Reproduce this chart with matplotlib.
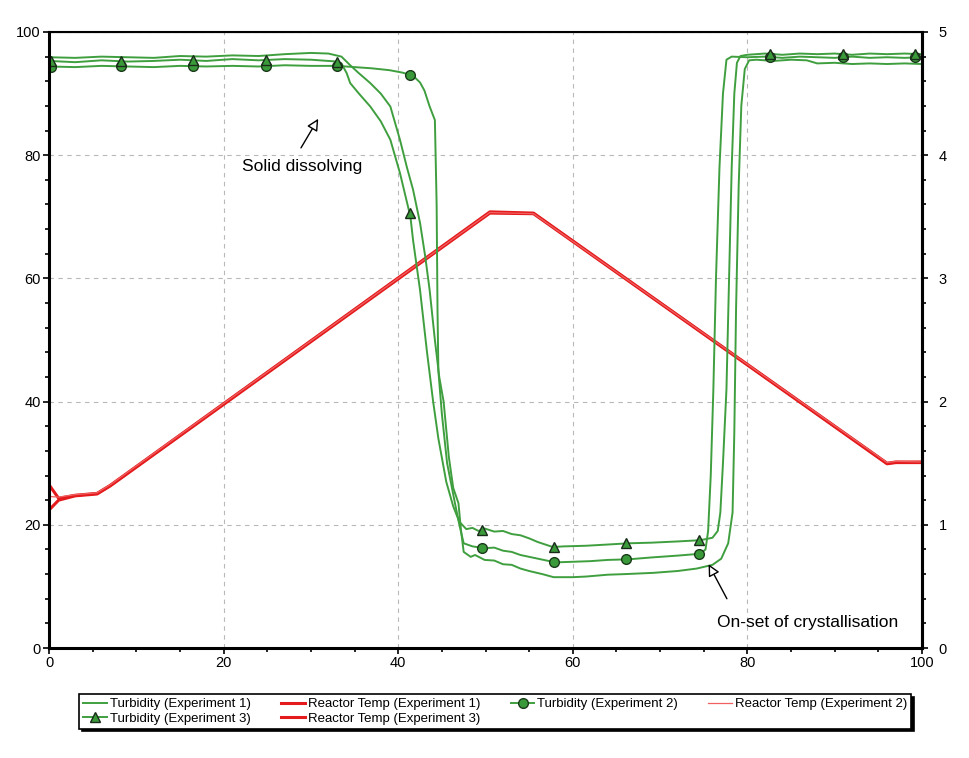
import numpy as np
import matplotlib
matplotlib.use('Agg')
import matplotlib.pyplot as plt
from matplotlib.ticker import MultipleLocator

plt.rcParams['font.family'] = ['Liberation Sans', 'DejaVu Sans']

# turbidity, experiment 1 (no marker)
x_t1 = [0, 3, 6, 9, 12, 15, 18, 21, 24, 27, 30, 32, 33.5, 34.5, 35.5, 36.8, 38, 39.1, 40.2,
        41.0, 41.7, 42.5, 43.1, 43.6, 44.2, 44.7, 45.2, 45.8, 46.3, 46.9, 47.2, 47.5, 48.3,
        48.8, 49.9, 51, 52, 53, 54, 55, 56.5, 57.8, 60, 61.5, 64, 66, 69.2, 72, 74.2, 76, 77,
        77.8, 78.3, 78.5, 78.7, 79.0, 79.3, 79.7, 80.2, 81, 83, 85, 86.8, 88, 90, 92, 94, 96,
        98, 100]
y_t1 = [95.9, 95.8, 96.0, 95.9, 95.8, 96.1, 96.0, 96.2, 96.1, 96.4, 96.6, 96.5, 96.0, 94.6,
        93.3, 91.7, 90.0, 87.9, 82.5, 78.0, 74.4, 69.0, 63.5, 58.1, 50.0, 44.0, 40.0, 31.0,
        26.0, 23.5, 19.0, 15.6, 14.8, 15.1, 14.3, 14.2, 13.6, 13.5, 12.9, 12.5, 12.0, 11.5,
        11.5, 11.6, 11.9, 12.0, 12.2, 12.5, 12.9, 13.5, 14.5, 17.0, 22.0, 35.0, 55.0, 75.0,
        88.0, 94.0, 95.4, 95.5, 95.3, 95.5, 95.4, 94.9, 95.0, 94.8, 94.9, 94.8, 94.9, 94.8]

# turbidity, experiment 2 (circles)
x_t2 = [0, 3, 6, 9, 12, 15, 18, 21, 24, 27, 30, 33, 35, 37, 39, 40.5, 41.7, 42.5, 43.0, 43.6,
        44.2, 44.4, 44.5, 44.6, 45.0, 45.6, 46.5, 47.0, 47.5, 48.5, 49.9, 51, 52, 53, 54, 55,
        56, 58, 60, 62, 64, 66.4, 69, 72, 74.6, 75.2, 75.5, 75.8, 76.1, 76.4, 76.8, 77.2,
        77.6, 78.2, 80, 82, 84, 86, 88, 90, 92, 94, 96, 98, 100]
y_t2 = [94.4, 94.3, 94.5, 94.4, 94.3, 94.5, 94.4, 94.5, 94.4, 94.6, 94.5, 94.5, 94.3, 94.1,
        93.8, 93.4, 92.9, 91.8, 90.5, 87.9, 85.7, 72.0, 55.0, 45.0, 38.0, 30.0, 23.5, 20.0,
        17.0, 16.5, 16.2, 16.3, 15.8, 15.6, 15.1, 14.8, 14.5, 13.9, 14.0, 14.1, 14.3, 14.4,
        14.7, 15.0, 15.3, 16.0, 19.0, 28.0, 42.0, 60.0, 78.0, 90.0, 95.5, 96.0, 95.9, 96.0,
        95.8, 96.0, 95.9, 95.8, 96.0, 95.8, 95.9, 95.8, 95.9]

# turbidity, experiment 3 (triangles)
x_t3 = [0, 3, 6, 9, 12, 15, 18, 21, 24, 27, 30, 33, 33.5, 34.1, 34.5, 35.5, 36.8, 38, 39.1,
        40.2, 41.4, 41.7, 42.5, 43.3, 44.0, 44.6, 45.5, 46.3, 47.0, 47.8, 48.5, 49.2, 49.9,
        51, 52, 53, 54, 55, 56, 57.7, 59, 61.5, 64, 66.4, 69, 72, 74.6, 76.0, 76.6, 76.9,
        77.2, 77.6, 77.9, 78.2, 78.5, 78.8, 79.2, 80, 82, 84, 86, 88, 90, 92, 94, 96, 98, 100]
y_t3 = [95.3, 95.1, 95.4, 95.2, 95.3, 95.5, 95.3, 95.6, 95.4, 95.6, 95.5, 95.2, 94.9, 93.3,
        91.7, 90.0, 87.9, 85.5, 82.5, 77.1, 70.0, 66.2, 58.1, 48.0, 40.0, 34.0, 27.0, 23.0,
        20.5, 19.3, 19.5, 19.0, 19.4, 18.9, 19.0, 18.5, 18.3, 17.8, 17.2, 16.4, 16.5, 16.6,
        16.8, 17.0, 17.1, 17.3, 17.5, 17.9, 19.0, 22.0, 30.0, 42.0, 60.0, 78.0, 90.0, 95.0,
        96.1, 96.3, 96.5, 96.3, 96.5, 96.4, 96.5, 96.3, 96.5, 96.4, 96.5, 96.4]

marker_x = [0.2, 8.26, 16.5, 24.8, 33.0, 41.3, 49.6, 57.9, 66.1, 74.4, 82.6, 90.9, 99.2]

# reactor temperatures
x_temp = [0, 1.1, 3, 5.5, 7, 50.5, 55.5, 96.0, 97, 100]
y_temp1 = [26.5, 24.3, 24.8, 25.1, 26.4, 70.8, 70.6, 30.0, 30.2, 30.2]
y_temp2 = [24.6, 24.5, 24.9, 25.2, 26.5, 70.7, 70.5, 30.1, 30.3, 30.2]
y_temp3 = [22.4, 24.0, 24.7, 25.0, 26.3, 70.6, 70.5, 29.9, 30.1, 30.1]

right_ticks = [0, 1, 2, 3, 4, 5]

green = '#3f9f3f'
red = '#e41a1c'

fig = plt.figure(figsize=(9.69, 7.58), dpi=100)
ax = fig.add_axes([0.0506, 0.1451, 0.9009, 0.8127])

ax.xaxis.grid(True, which='major', color='#b8b8b8', linestyle=(0, (4, 4)), lw=0.8)
ax.yaxis.grid(True, which='major', color='#b8b8b8', linestyle=(0, (4, 4)), lw=0.8)
ax.set_axisbelow(True)

rt1, = ax.plot(x_temp, y_temp1, color=red, lw=2.2)
rt3, = ax.plot(x_temp, y_temp3, color=red, lw=2.2)
rt2, = ax.plot(x_temp, y_temp2, color='#f06060', lw=0.9)

t1, = ax.plot(x_t1, y_t1, color=green, lw=1.4)
t2, = ax.plot(x_t2, y_t2, color=green, lw=1.4)
t3, = ax.plot(x_t3, y_t3, color=green, lw=1.4)

m2, = ax.plot(marker_x, np.interp(marker_x, x_t2, y_t2), ls='none', marker='o', ms=7,
              mfc='#3a9a3a', mec='#1a3a1a', mew=1.0)
m3, = ax.plot(marker_x, np.interp(marker_x, x_t3, y_t3), ls='none', marker='^', ms=7,
              mfc='#3a9a3a', mec='#1a2a1a', mew=1.0)

ax.set_xlim(0, 100)
ax.set_ylim(0, 100)
ax.xaxis.set_major_locator(MultipleLocator(20))
ax.xaxis.set_minor_locator(MultipleLocator(5))
ax.yaxis.set_major_locator(MultipleLocator(20))
ax.yaxis.set_minor_locator(MultipleLocator(4))
ax.tick_params(which='both', direction='out', labelsize=10.5, width=1.2, color='black')
ax.tick_params(which='major', length=4, pad=2)
ax.tick_params(which='minor', length=3)
for s in ['left', 'bottom']:
    ax.spines[s].set_linewidth(2.2)
ax.spines['top'].set_linewidth(1.5)
ax.spines['right'].set_linewidth(2.2)

ax2 = ax.twinx()
ax2.set_ylim(0, 5)
ax2.set_yticks(right_ticks)
ax2.set_yticklabels([str(v) for v in right_ticks])
ax2.yaxis.set_minor_locator(MultipleLocator(0.2))
ax2.tick_params(which='both', direction='out', labelsize=10.5, width=1.2)
ax2.tick_params(which='major', length=4, pad=8)
ax2.tick_params(which='minor', length=3)
ax2.spines['right'].set_linewidth(2.2)

# annotations
ax.annotate('', xy=(31.0, 86.3), xytext=(28.7, 80.8),
            arrowprops=dict(arrowstyle='-|>,head_length=0.7,head_width=0.35',
                            fc='white', ec='black', lw=1.0))
ax.text(29.0, 78.1, 'Solid dissolving', fontsize=12.5, ha='center', va='center')
ax.annotate('', xy=(75.4, 14.0), xytext=(77.8, 7.6),
            arrowprops=dict(arrowstyle='-|>,head_length=0.7,head_width=0.35',
                            fc='white', ec='black', lw=1.0))
ax.text(86.9, 4.2, 'On-set of crystallisation', fontsize=12.5, ha='center', va='center')

handles = [t1, (t3, m3), rt1, rt3, (t2, m2), rt2]
labels = ['Turbidity (Experiment 1)', 'Turbidity (Experiment 3)',
          'Reactor Temp (Experiment 1)', 'Reactor Temp (Experiment 3)',
          'Turbidity (Experiment 2)', 'Reactor Temp (Experiment 2)']
leg = fig.legend(handles, labels, ncol=4, loc='center', mode='expand',
                 bbox_to_anchor=(0.075, 0.033, 0.872, 0.057), fontsize=9.5,
                 frameon=True, fancybox=False, edgecolor='black',
                 shadow={'color': 'black', 'alpha': 1.0},
                 handlelength=1.8, handletextpad=0.2, labelspacing=0.15,
                 borderpad=0.3, columnspacing=1.0)
leg.get_frame().set_linewidth(1.2)

fig.savefig('out.png', dpi=100)
